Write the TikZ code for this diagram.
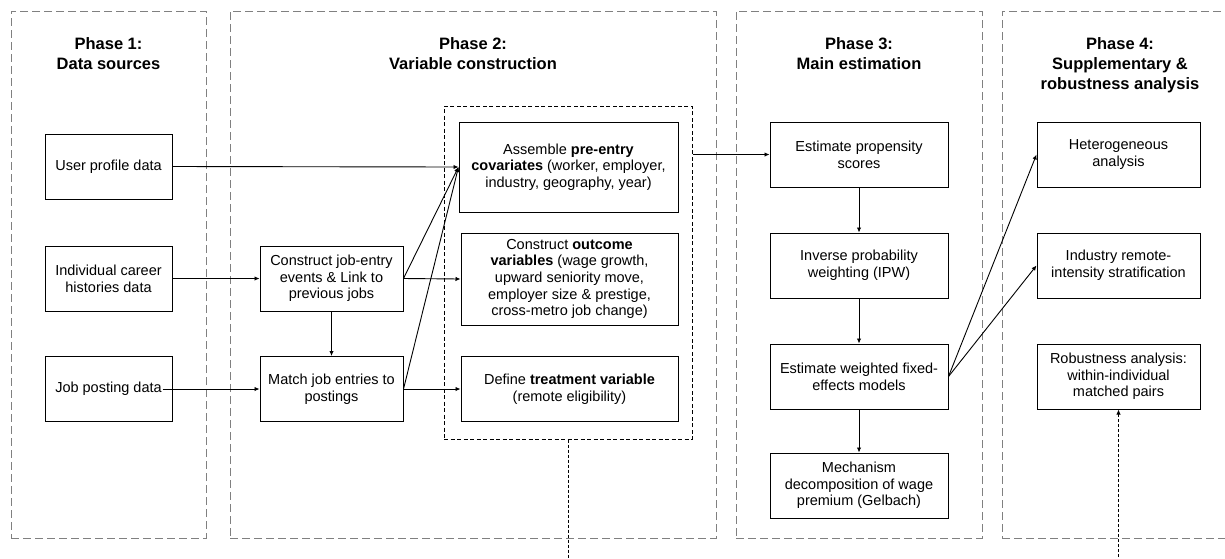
\documentclass[tikz,border=0pt]{standalone}
\usepackage{fontspec}
\setmainfont{Liberation Sans}
\usetikzlibrary{arrows.meta,calc}
\definecolor{phasegray}{RGB}{128,128,128}
\begin{document}
\begin{tikzpicture}[x=1pt,y=-1pt,
  phase/.style={draw=phasegray, line width=1pt, dash pattern=on 8pt off 4pt, inner sep=0pt},
  inbox/.style={draw=black, line width=1pt, dash pattern=on 4pt off 2.5pt, inner sep=0pt},
  box/.style={draw=black, line width=1pt, fill=white, align=center, inner sep=0pt, font=\fontsize{14.5}{16.7}\selectfont},
  ttl/.style={align=center, anchor=north, inner sep=0pt, font=\fontsize{16.5}{20}\selectfont\bfseries},
  arr/.style={line width=0.9pt, -{Latex[length=5pt,width=4.5pt]}},
  dotl/.style={line width=0.9pt, dash pattern=on 3pt off 2pt},
]
\useasboundingbox (0,0) rectangle (1225,558);
\clip (0,0) rectangle (1225,558);
\fill[white] (0,0) rectangle (1225,558);

% phase containers
\node[phase, minimum width=195, minimum height=527] (p1) at (108.5,274.5) {};
\node[phase, minimum width=486, minimum height=527] (p2) at (473,274.5) {};
\node[phase, minimum width=246, minimum height=527] (p3) at (859,274.5) {};
\node[phase, minimum width=236, minimum height=527] (p4) at (1120,274.5) {};

\node[ttl] (t1) at (108.5,37) {Phase 1:\\Data sources};
\node[ttl] (t2) at (473,37) {Phase 2:\\Variable construction};
\node[ttl] (t3) at (859,37) {Phase 3:\\Main estimation};
\node[ttl] (t4) at (1120,37) {Phase 4:\\Supplementary \&\\robustness analysis};

% inner dashed group
\node[inbox, minimum width=248, minimum height=333] (inner) at (568,272.5) {};

% phase 1
\node[box, minimum width=127, minimum height=65] (up) at (108.5,166.5) {User profile data};
\node[box, minimum width=127, minimum height=65] (ic) at (108.5,278.5) {Individual career\\histories data};
\node[box, minimum width=127, minimum height=65] (jp) at (108.5,389) {Job posting data};

% phase 2
\node[box, minimum width=143, minimum height=65] (cj) at (331.5,278.5) {Construct job-entry\\events \& Link to\\previous jobs};
\node[box, minimum width=143, minimum height=65] (mj) at (331.5,389) {Match job entries to\\postings};
\node[box, minimum width=219, minimum height=90] (as) at (568.5,167) {Assemble \textbf{pre-entry}\\\textbf{covariates} (worker, employer,\\industry, geography, year)};
\node[box, minimum width=217, minimum height=92] (oc) at (569.5,279) {Construct \textbf{outcome}\\\textbf{variables} (wage growth,\\upward seniority move,\\employer size \& prestige,\\cross-metro job change)};
\node[box, minimum width=217, minimum height=65] (tr) at (569.5,389) {Define \textbf{treatment variable}\\(remote eligibility)};

% phase 3
\node[box, minimum width=178, minimum height=65] (ps) at (859,154.5) {Estimate propensity\\scores};
\node[box, minimum width=178, minimum height=65] (ipw) at (859,265.5) {Inverse probability\\weighting (IPW)};
\node[box, minimum width=178, minimum height=65] (fe) at (859,376.5) {Estimate weighted fixed-\\effects models};
\node[box, minimum width=178, minimum height=65] (mech) at (859,485.5) {Mechanism\\decomposition of wage\\premium (Gelbach)};

% phase 4
\node[box, minimum width=163, minimum height=65] (het) at (1118.5,154.5) {Heterogeneous\\analysis};
\node[box, minimum width=163, minimum height=65] (ind) at (1118.5,265.5) {Industry remote-\\intensity stratification};
\node[box, minimum width=163, minimum height=65] (rob) at (1118.5,376.5) {Robustness analysis:\\within-individual\\matched pairs};

% connectors
\draw[arr] (up.east) -- (as.west);
\draw[arr] (ic.east) -- (cj.west);
\draw[arr] ($(jp.east)+(-10,0)$) -- (mj.west);
\draw[arr] (cj.south) -- (mj.north);
\draw[arr] (cj.east) -- (as.west);
\draw[arr] (cj.east) -- (oc.west);
\draw[arr] (mj.east) -- (as.west);
\draw[arr] (mj.east) -- (tr.west);
\draw[arr] (inner.east |- ps.west) -- (ps.west);
\draw[arr] (ps.south) -- (ipw.north);
\draw[arr] (ipw.south) -- (fe.north);
\draw[arr] (fe.south) -- (mech.north);
\draw[arr] (fe.east) -- (het.west);
\draw[arr] (fe.east) -- (ind.west);

\coordinate (e1) at (568,562);
\coordinate (e2) at (1118.5,562);
\draw[dotl] (inner.south) -- (e1);
\draw[dotl, arr] (e2) -- (rob.south);
\end{tikzpicture}
\end{document}
